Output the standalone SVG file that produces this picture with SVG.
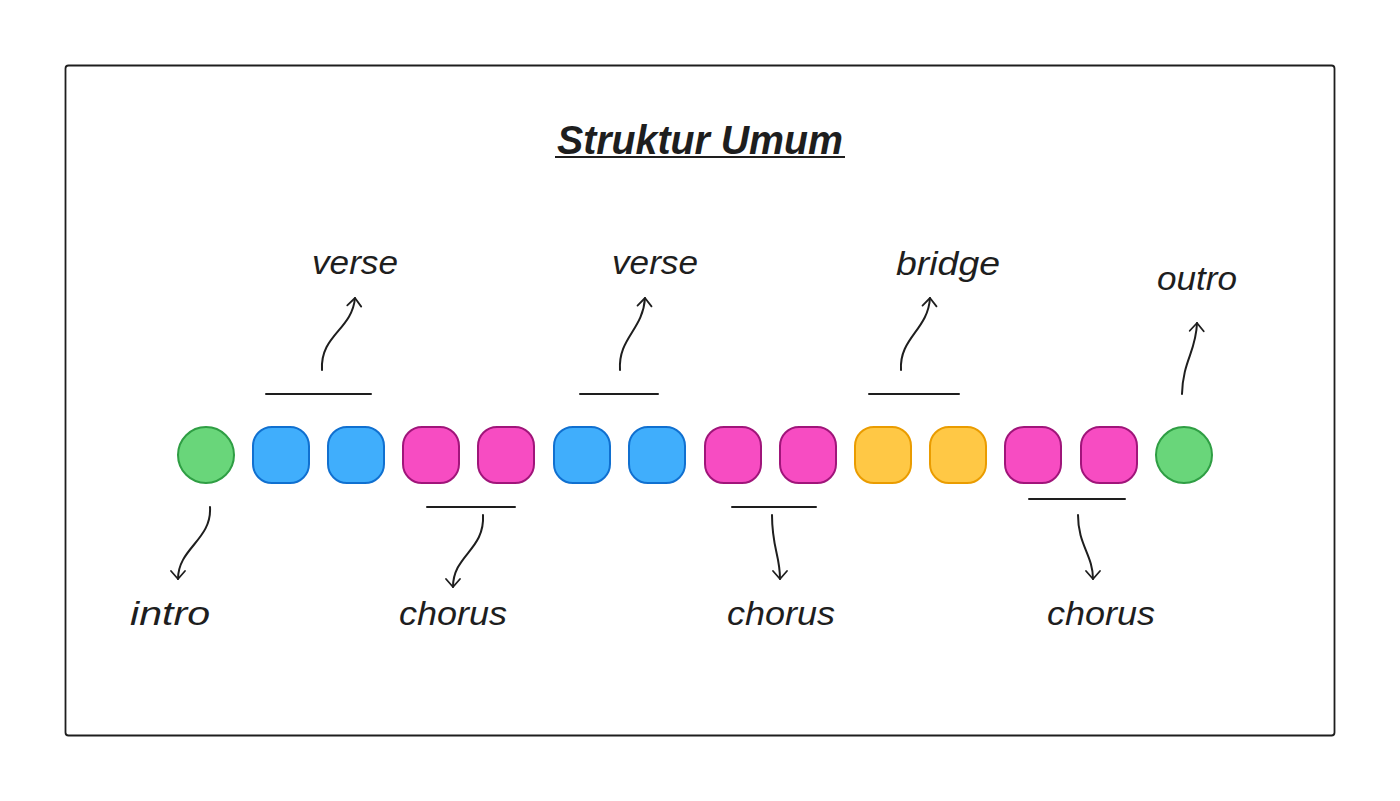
<svg xmlns="http://www.w3.org/2000/svg" width="1400" height="801" viewBox="0 0 1400 801">
<style>
.t{font-family:"Liberation Sans","DejaVu Sans",sans-serif;font-style:italic;fill:#1e1e1e;text-anchor:middle}
.lbl{font-size:34px}
.ln{stroke:#1e1e1e;stroke-width:2;fill:none;stroke-linecap:round}
.g{fill:#69d67a;stroke:#2f9e44;stroke-width:2}
.b{fill:#40aefc;stroke:#1070d0;stroke-width:2}
.p{fill:#f74cc2;stroke:#a0157a;stroke-width:2}
.y{fill:#ffc845;stroke:#ea9c00;stroke-width:2}
</style>
<defs>
<marker id="ah" viewBox="0 0 20 20" refX="10" refY="10" markerWidth="20" markerHeight="20" markerUnits="userSpaceOnUse" orient="auto">
<path d="M2,3 L10,10 L2,17" fill="none" stroke="#1e1e1e" stroke-width="1.8" stroke-linecap="round" stroke-linejoin="round"/>
</marker>
</defs>
<rect width="1400" height="801" fill="#ffffff"/>
<rect x="65.5" y="65.5" width="1269" height="670" rx="3" fill="none" stroke="#1e1e1e" stroke-width="1.8"/>
<g id="title">
<text class="t" x="700" y="154" font-size="40" font-weight="bold" textLength="286" lengthAdjust="spacingAndGlyphs">Struktur Umum</text>
<line x1="555" y1="157" x2="845" y2="157" stroke="#1e1e1e" stroke-width="2"/>
</g>
<g id="n1"><circle class="g" cx="206" cy="455" r="28"/></g>
<g id="n2"><rect class="b" x="253" y="427" width="56" height="56" rx="19"/></g>
<g id="n3"><rect class="b" x="328" y="427" width="56" height="56" rx="19"/></g>
<g id="n4"><rect class="p" x="403" y="427" width="56" height="56" rx="19"/></g>
<g id="n5"><rect class="p" x="478" y="427" width="56" height="56" rx="19"/></g>
<g id="n6"><rect class="b" x="554" y="427" width="56" height="56" rx="19"/></g>
<g id="n7"><rect class="b" x="629" y="427" width="56" height="56" rx="19"/></g>
<g id="n8"><rect class="p" x="705" y="427" width="56" height="56" rx="19"/></g>
<g id="n9"><rect class="p" x="780" y="427" width="56" height="56" rx="19"/></g>
<g id="n10"><rect class="y" x="855" y="427" width="56" height="56" rx="19"/></g>
<g id="n11"><rect class="y" x="930" y="427" width="56" height="56" rx="19"/></g>
<g id="n12"><rect class="p" x="1005" y="427" width="56" height="56" rx="19"/></g>
<g id="n13"><rect class="p" x="1081" y="427" width="56" height="56" rx="19"/></g>
<g id="n14"><circle class="g" cx="1184" cy="455" r="28"/></g>
<g id="connectors">
<line class="ln" x1="266" y1="394" x2="371" y2="394"/>
<path class="ln" d="M322,370 C320,335 352,330 355,298" marker-end="url(#ah)"/>
<line class="ln" x1="580" y1="394" x2="658" y2="394"/>
<path class="ln" d="M620,370 C618,338 643,330 645,298" marker-end="url(#ah)"/>
<line class="ln" x1="869" y1="394" x2="959" y2="394"/>
<path class="ln" d="M901,370 C899,338 928,330 930,298" marker-end="url(#ah)"/>
<path class="ln" d="M1182,394 C1183,360 1196,352 1197,323" marker-end="url(#ah)"/>
<path class="ln" d="M210,507 C212,540 178,548 178,579" marker-end="url(#ah)"/>
<line class="ln" x1="427" y1="507" x2="515" y2="507"/>
<path class="ln" d="M483,515 C485,550 453,555 453,587" marker-end="url(#ah)"/>
<line class="ln" x1="732" y1="507" x2="816" y2="507"/>
<path class="ln" d="M772,515 C772,548 780,555 780,579" marker-end="url(#ah)"/>
<line class="ln" x1="1029" y1="499" x2="1125" y2="499"/>
<path class="ln" d="M1078,515 C1078,545 1093,555 1093,579" marker-end="url(#ah)"/>
</g>
<g id="labels">
<text class="t lbl" x="355" y="274" textLength="86" lengthAdjust="spacingAndGlyphs">verse</text>
<text class="t lbl" x="655" y="274" textLength="86" lengthAdjust="spacingAndGlyphs">verse</text>
<text class="t lbl" x="948" y="275" textLength="104" lengthAdjust="spacingAndGlyphs">bridge</text>
<text class="t lbl" x="1197" y="290" textLength="80" lengthAdjust="spacingAndGlyphs">outro</text>
<text class="t lbl" x="170" y="625" textLength="80" lengthAdjust="spacingAndGlyphs">intro</text>
<text class="t lbl" x="453" y="625" textLength="108" lengthAdjust="spacingAndGlyphs">chorus</text>
<text class="t lbl" x="781" y="625" textLength="108" lengthAdjust="spacingAndGlyphs">chorus</text>
<text class="t lbl" x="1101" y="625" textLength="108" lengthAdjust="spacingAndGlyphs">chorus</text>
</g>
</svg>
